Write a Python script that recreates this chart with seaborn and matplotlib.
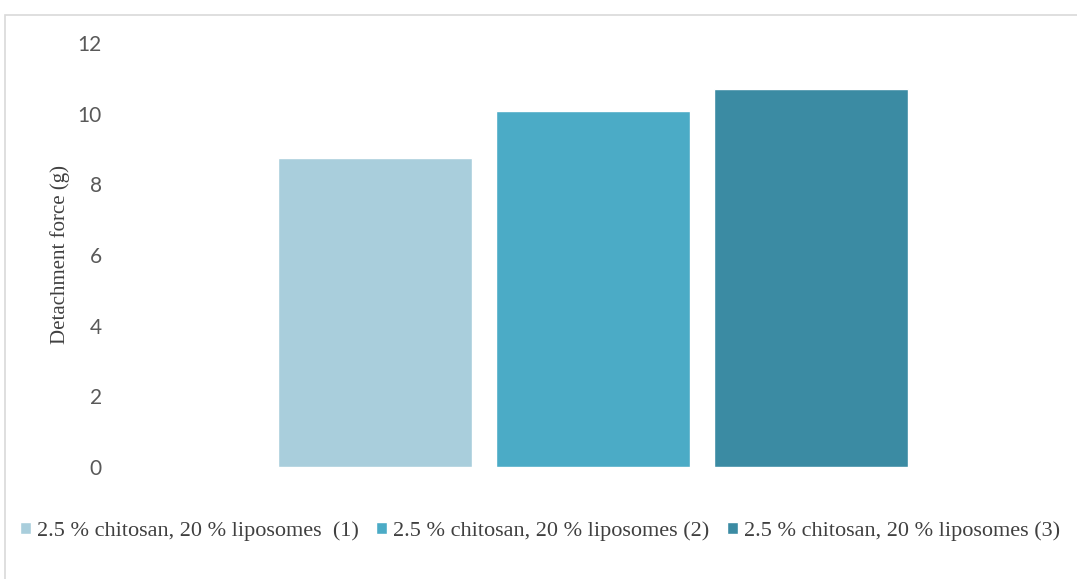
import matplotlib
matplotlib.use("Agg")
import matplotlib.pyplot as plt
import seaborn as sns
import pandas as pd
from matplotlib.patches import Rectangle

# Detachment force for three replicate formulations
group = ["Formulation"]
series = [
    "2.5 % chitosan, 20 % liposomes  (1)",
    "2.5 % chitosan, 20 % liposomes (2)",
    "2.5 % chitosan, 20 % liposomes (3)",
]
values = [8.75, 10.08, 10.70]
colors = ["#A9CEDC", "#4BABC6", "#3B8BA3"]
yticks = [0, 2, 4, 6, 8, 10, 12]

df = pd.DataFrame({"group": group * len(series), "series": series, "force": values})

sns.set_theme(style="white")
plt.rcParams["font.family"] = ["Liberation Serif", "DejaVu Serif"]

fig = plt.figure(figsize=(10.77, 5.79), dpi=100)
ax = fig.add_axes([110 / 1077, 1 - 467 / 579, 966 / 1077, 424 / 579])

sns.barplot(data=df, x="group", y="force", hue="series", palette=colors,
            width=0.677, gap=0.11, saturation=1, ax=ax, legend=True)

ax.set_xlim(-0.5, 0.5)
ax.set_ylim(0, 12)
ax.set_yticks(yticks)
ax.set_yticklabels([str(t) for t in yticks], fontsize=15, color="#595959",
                   family=["Lato", "DejaVu Sans"])
ax.tick_params(axis="y", length=0, pad=6)
ax.set_xticks([])
ax.set_xlabel("")
ax.set_ylabel("Detachment force (g)", fontsize=15, color="#404040", labelpad=5)
for s in ax.spines.values():
    s.set_visible(False)

handles, labels = ax.get_legend_handles_labels()
ax.legend_.remove()
fig.legend(handles, labels, loc="center left", bbox_to_anchor=(20 / 1077, 1 - 531 / 579),
           ncol=3, frameon=False, fontsize=16, handlelength=0.5, handleheight=0.5,
           handletextpad=0.25, columnspacing=0.8, labelcolor="#404040",
           borderaxespad=0, borderpad=0)

# Frame around the chart area
fig.patches.append(Rectangle((5 / 1077, -0.1), 1.2, 1 - 15 / 579 + 0.1,
                             transform=fig.transFigure, fill=False,
                             edgecolor="#D9D9D9", linewidth=1.2))

fig.savefig("out.png", dpi=100)
